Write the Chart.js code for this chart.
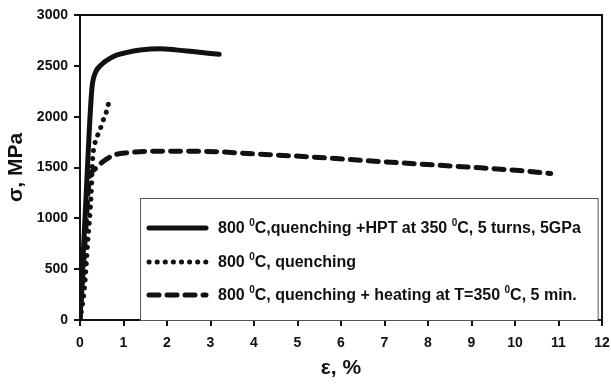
<!DOCTYPE html>
<html>
<head>
<meta charset="utf-8">
<script src="https://cdn.jsdelivr.net/npm/chart.js@4.4.0/dist/chart.umd.min.js"></script>
<style>
html,body{margin:0;padding:0;background:#fff;}
#wrap{width:611px;height:385px;}
</style>
</head>
<body>
<div id="wrap"><canvas id="c" width="611" height="385"></canvas></div>
<script>
const seriesLabels = [
  "800 \u2070C,quenching +HPT at 350 \u2070C, 5 turns, 5GPa",
  "800 \u2070C, quenching",
  "800 \u2070C, quenching + heating at T=350 \u2070C, 5 min."
];
const hptStrain = [0, 0.14, 0.27, 0.35, 0.42, 0.54, 0.68, 0.84, 1.06, 1.38, 1.84, 2.21, 2.59, 3.2];
const hptStress = [0, 1220, 2260, 2430, 2480, 2530, 2570, 2605, 2630, 2655, 2668, 2657, 2640, 2613];
const qStrain = [0, 0.1, 0.18, 0.26, 0.29, 0.33, 0.37, 0.45, 0.52, 0.6, 0.65, 0.73];
const qStress = [0, 300, 780, 1250, 1580, 1710, 1780, 1860, 1950, 2040, 2120, 2190];
const heatStrain = [0, 0.12, 0.22, 0.33, 0.45, 0.6, 0.8, 1.1, 1.7, 2.9, 4.1, 5.3, 6.5, 7.7, 8.9, 10.1, 10.82];
const heatStress = [0, 800, 1400, 1480, 1530, 1580, 1625, 1645, 1660, 1658, 1632, 1604, 1570, 1537, 1505, 1470, 1440];
const xTicks = [0,1,2,3,4,5,6,7,8,9,10,11,12];
const yTicks = [0,500,1000,1500,2000,2500,3000];

const toPts = (xs, ys) => xs.map((x, i) => ({x: x, y: ys[i]}));
const FONT = '"Liberation Sans", Arial, sans-serif';

const styles = [
  {borderWidth: 5, borderDash: [], borderCapStyle: 'round'},
  {borderWidth: 5, borderDash: [0.1, 8], borderCapStyle: 'round'},
  {borderWidth: 5, borderDash: [10, 8], borderCapStyle: 'round'}
];

const legendPlugin = {
  id: 'customLegend',
  afterDraw(chart) {
    const ctx = chart.ctx;
    const xs = chart.scales.x, ys = chart.scales.y;
    const left = xs.getPixelForValue(1.38);
    const right = xs.getPixelForValue(11.9);
    const top = ys.getPixelForValue(1200);
    const bottom = chart.chartArea.bottom;
    ctx.save();
    ctx.fillStyle = '#fff';
    ctx.fillRect(left, top, right - left, bottom - top);
    ctx.strokeStyle = '#555';
    ctx.lineWidth = 1;
    ctx.strokeRect(left + 0.5, top + 0.5, right - left, bottom - top);
    const rows = [top + 30, top + 64, top + 97];
    chart.data.datasets.forEach((ds, i) => {
      const y = rows[i];
      ctx.beginPath();
      ctx.lineWidth = ds.borderWidth;
      ctx.setLineDash(ds.borderDash || []);
      ctx.lineCap = 'round';
      ctx.strokeStyle = '#111';
      ctx.moveTo(left + 9, y);
      ctx.lineTo(left + 66, y);
      ctx.stroke();
      ctx.setLineDash([]);
      let tx = left + 78;
      ctx.fillStyle = '#111';
      ctx.textBaseline = 'middle';
      const parts = ds.label.split('\u2070');
      parts.forEach((p, k) => {
        ctx.font = 'bold 16px ' + FONT;
        ctx.fillText(p, tx, y + 1);
        tx += ctx.measureText(p).width;
        if (k < parts.length - 1) {
          ctx.font = 'bold 10px ' + FONT;
          ctx.fillText('0', tx, y - 5);
          tx += ctx.measureText('0').width;
        }
      });
    });
    ctx.restore();
  }
};

const frame = {
  id: 'frame',
  afterDatasetsDraw(chart) {
    const {left, right, top, bottom} = chart.chartArea;
    const ctx = chart.ctx;
    ctx.save();
    ctx.strokeStyle = '#111';
    ctx.lineWidth = 2;
    ctx.beginPath();
    ctx.moveTo(left, top);
    ctx.lineTo(right, top);
    ctx.lineTo(right, bottom);
    ctx.stroke();
    ctx.restore();
  }
};

new Chart(document.getElementById('c'), {
  type: 'scatter',
  data: {
    datasets: [
      Object.assign({label: seriesLabels[0], data: toPts(hptStrain, hptStress)}, styles[0]),
      Object.assign({label: seriesLabels[1], data: toPts(qStrain, qStress)}, styles[1]),
      Object.assign({label: seriesLabels[2], data: toPts(heatStrain, heatStress)}, styles[2])
    ].map(d => Object.assign(d, {showLine: true, pointRadius: 0, borderColor: '#111', backgroundColor: '#111', cubicInterpolationMode: 'monotone', fill: false}))
  },
  options: {
    responsive: false,
    animation: false,
    devicePixelRatio: 1,
    layout: {padding: {top: 15, right: 0, left: 0, bottom: 0}},
    plugins: {legend: {display: false}, tooltip: {enabled: false}},
    scales: {
      x: {
        type: 'linear', min: 0, max: 12,
        afterBuildTicks: s => { s.ticks = xTicks.map(v => ({value: v})); },
        afterFit: s => { s.height = 65; s.paddingRight = 9; },
        grid: {display: true, drawOnChartArea: false, drawTicks: true, tickLength: 6, color: '#111', tickColor: '#111', tickWidth: 2, lineWidth: 2},
        border: {display: true, color: '#111', width: 2},
        ticks: {color: '#111', padding: 9, callback: v => String(v), font: {family: FONT, size: 14, weight: 'bold'}, maxRotation: 0},
        title: {display: true, text: '\u03b5, %', color: '#111', padding: {top: 0}, font: {family: FONT, size: 21, weight: 'bold'}}
      },
      y: {
        type: 'linear', min: 0, max: 3000,
        afterBuildTicks: s => { s.ticks = yTicks.map(v => ({value: v})); },
        afterFit: s => { s.width = 80; },
        grid: {display: true, drawOnChartArea: false, drawTicks: true, tickLength: 6, color: '#111', tickColor: '#111', tickWidth: 2, lineWidth: 2},
        border: {display: true, color: '#111', width: 2},
        ticks: {color: '#111', padding: 6, callback: v => String(v), font: {family: FONT, size: 14, weight: 'bold'}},
        title: {display: true, text: '\u03c3, MPa', color: '#111', padding: {bottom: 2}, font: {family: FONT, size: 21, weight: 'bold'}}
      }
    }
  },
  plugins: [frame, legendPlugin]
});
</script>
</body>
</html>
